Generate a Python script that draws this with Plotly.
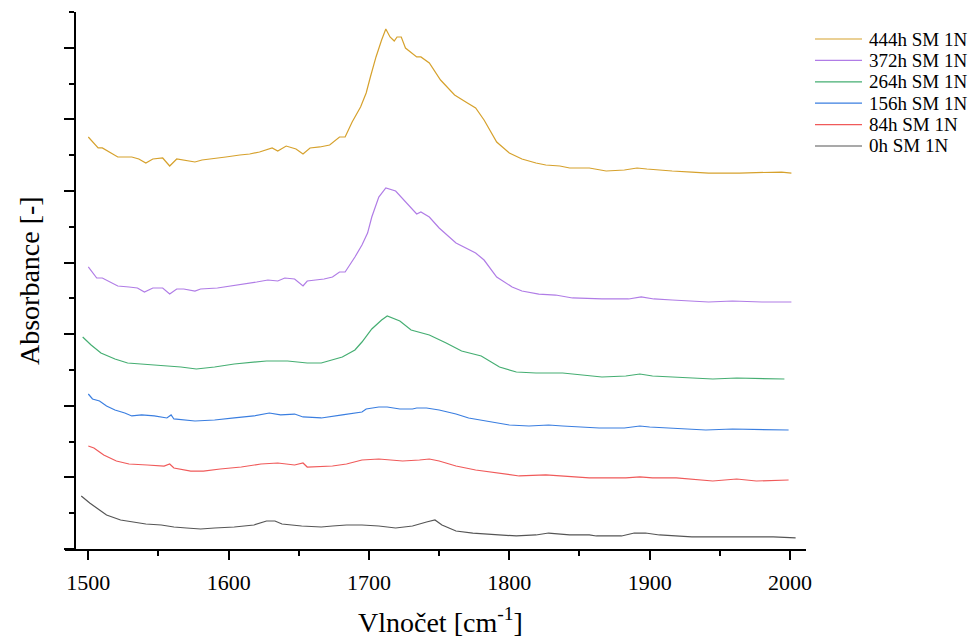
import plotly.graph_objects as go

# ---- data (absorbance in stacked arbitrary units) ----
w_444 = [1500,1507,1510,1521,1531,1536,1541,1546,1553,1558,1563,1570,1576,1581,1588,1598,1608,1615,1622,1631,1635,1641,1648,1653,1658,1665,1672,1679,1683,1688,1694,1698,1701,1705,1709,1712,1715,1718,1720,1723,1726,1731,1734,1737,1743,1751,1761,1769,1776,1782,1791,1800,1809,1819,1826,1836,1843,1857,1869,1882,1891,1898,1905,1916,1930,1942,1964,1994,2001]
a_444 = [5.754,5.601,5.601,5.475,5.475,5.447,5.391,5.447,5.461,5.349,5.447,5.419,5.405,5.433,5.447,5.475,5.503,5.517,5.545,5.601,5.559,5.628,5.587,5.517,5.601,5.615,5.642,5.754,5.754,5.964,6.173,6.369,6.592,6.872,7.109,7.263,7.151,7.095,7.151,7.151,6.997,6.913,6.872,6.872,6.788,6.550,6.341,6.243,6.159,5.992,5.684,5.531,5.447,5.391,5.363,5.349,5.321,5.321,5.279,5.293,5.321,5.307,5.293,5.279,5.265,5.251,5.251,5.265,5.251]

w_372 = [1500,1503,1506,1510,1515,1521,1529,1535,1540,1546,1553,1558,1563,1568,1576,1580,1592,1602,1613,1620,1628,1635,1640,1647,1653,1656,1668,1674,1679,1683,1690,1695,1699,1702,1707,1712,1719,1723,1729,1734,1737,1743,1750,1762,1776,1782,1791,1802,1809,1821,1833,1845,1866,1885,1894,1903,1916,1930,1942,1959,1980,2001]
a_372 = [3.939,3.869,3.785,3.785,3.729,3.673,3.659,3.645,3.589,3.645,3.645,3.561,3.631,3.631,3.603,3.631,3.645,3.673,3.701,3.729,3.757,3.743,3.785,3.771,3.673,3.743,3.771,3.799,3.869,3.869,4.078,4.246,4.413,4.637,4.916,5.042,5.000,4.916,4.777,4.679,4.707,4.637,4.483,4.274,4.134,4.036,3.799,3.659,3.603,3.561,3.547,3.506,3.492,3.492,3.520,3.492,3.478,3.464,3.450,3.464,3.450,3.450]

w_264 = [1496,1502,1509,1519,1528,1538,1552,1566,1577,1590,1604,1618,1627,1642,1656,1666,1674,1681,1690,1695,1702,1709,1713,1722,1730,1743,1755,1766,1780,1793,1805,1819,1838,1857,1866,1883,1893,1902,1919,1928,1945,1962,1983,1996]
a_264 = [2.961,2.849,2.737,2.654,2.598,2.584,2.570,2.542,2.514,2.542,2.584,2.612,2.626,2.626,2.598,2.598,2.640,2.682,2.779,2.891,3.073,3.198,3.254,3.184,3.059,2.989,2.877,2.765,2.696,2.542,2.472,2.458,2.458,2.416,2.402,2.416,2.444,2.416,2.402,2.388,2.374,2.388,2.374,2.374]

w_156 = [1500,1503,1508,1513,1519,1526,1531,1538,1547,1556,1559,1561,1576,1590,1604,1618,1629,1637,1647,1653,1666,1674,1681,1695,1698,1707,1713,1722,1731,1734,1741,1750,1762,1771,1783,1800,1814,1828,1838,1857,1864,1882,1893,1900,1916,1928,1940,1959,1990,1999]
a_156 = [2.165,2.095,2.067,1.997,1.941,1.899,1.858,1.872,1.858,1.830,1.872,1.816,1.788,1.802,1.830,1.858,1.899,1.872,1.885,1.844,1.830,1.858,1.872,1.913,1.955,1.983,1.983,1.955,1.955,1.969,1.969,1.941,1.885,1.830,1.788,1.732,1.718,1.732,1.718,1.704,1.690,1.690,1.718,1.704,1.690,1.676,1.662,1.676,1.662,1.662]

w_84 = [1500,1504,1508,1511,1520,1529,1542,1554,1558,1561,1573,1582,1594,1609,1623,1635,1647,1653,1656,1674,1684,1695,1707,1724,1736,1743,1750,1762,1776,1791,1807,1826,1838,1857,1869,1883,1893,1902,1919,1928,1945,1962,1976,1999]
a_84 = [1.439,1.411,1.355,1.313,1.229,1.187,1.173,1.159,1.187,1.131,1.089,1.089,1.117,1.145,1.187,1.201,1.173,1.201,1.145,1.159,1.187,1.243,1.257,1.229,1.243,1.257,1.229,1.159,1.103,1.061,1.020,1.034,1.020,0.992,0.992,0.992,1.006,0.992,0.992,0.978,0.950,0.978,0.950,0.964]

w_0 = [1495,1501,1507,1513,1523,1534,1541,1552,1561,1570,1580,1590,1604,1618,1627,1633,1638,1652,1666,1674,1684,1695,1707,1719,1731,1741,1747,1752,1762,1774,1791,1805,1819,1828,1843,1857,1862,1880,1889,1897,1907,1921,1930,1945,1969,1988,2004]
a_0 = [0.740,0.642,0.559,0.475,0.405,0.377,0.349,0.335,0.307,0.293,0.279,0.293,0.307,0.335,0.391,0.391,0.349,0.321,0.307,0.321,0.335,0.335,0.321,0.293,0.321,0.377,0.405,0.335,0.251,0.223,0.196,0.182,0.196,0.223,0.196,0.196,0.182,0.182,0.223,0.223,0.196,0.182,0.168,0.168,0.168,0.168,0.154]

labels = ["444h SM 1N", "372h SM 1N", "264h SM 1N", "156h SM 1N", "84h SM 1N", "0h SM 1N"]
colors = ["#D6A12C", "#B07CE6", "#45AE72", "#3A7EE0", "#F05A5A", "#555555"]
xs = [w_444, w_372, w_264, w_156, w_84, w_0]
ys = [a_444, a_372, a_264, a_156, a_84, a_0]

x_ticks = [1500, 1600, 1700, 1800, 1900, 2000]

FONT = "Liberation Serif, Times New Roman, serif"

fig = go.Figure()
for lab, col, x, y in zip(labels, colors, xs, ys):
    fig.add_trace(go.Scatter(x=x, y=y, mode="lines", name=lab,
                             line=dict(color=col, width=1.2), showlegend=False))

# geometry (pixels) for layout placement
W, H = 979, 639
L, R, T, B = 65, 173, 12, 90
pw, ph = W - L - R, H - T - B

def px(xp):
    return (xp - L) / pw

def py(yp):
    return 1 - (yp - T) / ph

shapes = []
annotations = []
# manual legend (compact row spacing as in the reference)
for i, (lab, col) in enumerate(zip(labels, colors)):
    yp = 39 + i * 21.4
    shapes.append(dict(type="line", xref="paper", yref="paper",
                       x0=px(815), x1=px(862), y0=py(yp), y1=py(yp),
                       line=dict(color=col, width=1.2)))
    annotations.append(dict(xref="paper", yref="paper", x=px(867), y=py(yp),
                            xanchor="left", yanchor="middle", showarrow=False,
                            text=lab, font=dict(family=FONT, size=19, color="black")))

annotations.append(dict(xref="paper", yref="paper", x=px(440), y=py(620),
                        xanchor="center", yanchor="middle", showarrow=False,
                        text="Vlnočet [cm<sup>-1</sup>]",
                        font=dict(family=FONT, size=28, color="black")))
annotations.append(dict(xref="paper", yref="paper", x=px(29), y=py(281),
                        xanchor="center", yanchor="middle", showarrow=False,
                        textangle=-90, text="Absorbance [-]",
                        font=dict(family=FONT, size=28, color="black")))

fig.update_layout(
    width=W, height=H,
    margin=dict(l=L, r=R, t=T, b=B, pad=0),
    paper_bgcolor="white", plot_bgcolor="white",
    font=dict(family=FONT, color="black"),
    shapes=shapes, annotations=annotations,
    xaxis=dict(range=[1483.4, 2011.4], showgrid=False, zeroline=False,
               showline=True, linecolor="black", linewidth=2,
               ticks="outside", ticklen=9, tickwidth=1.5, tickcolor="black",
               tickvals=x_ticks, ticktext=[str(v) for v in x_ticks],
               tickfont=dict(family=FONT, size=22, color="black"),
               ticklabelstandoff=4,
               minor=dict(dtick=50, tick0=1500, ticks="outside", ticklen=5,
                          tickwidth=1.5, tickcolor="black", showgrid=False)),
    yaxis=dict(range=[0, 7.5], showgrid=False, zeroline=False,
               anchor="free", position=px(75),
               showline=True, linecolor="black", linewidth=2,
               ticks="outside", ticklen=10, tickwidth=1.5, tickcolor="black",
               tick0=0, dtick=1, showticklabels=False,
               minor=dict(dtick=0.5, tick0=0, ticks="outside", ticklen=5,
                          tickwidth=1.5, tickcolor="black", showgrid=False)),
)

fig.write_html("out.html")
